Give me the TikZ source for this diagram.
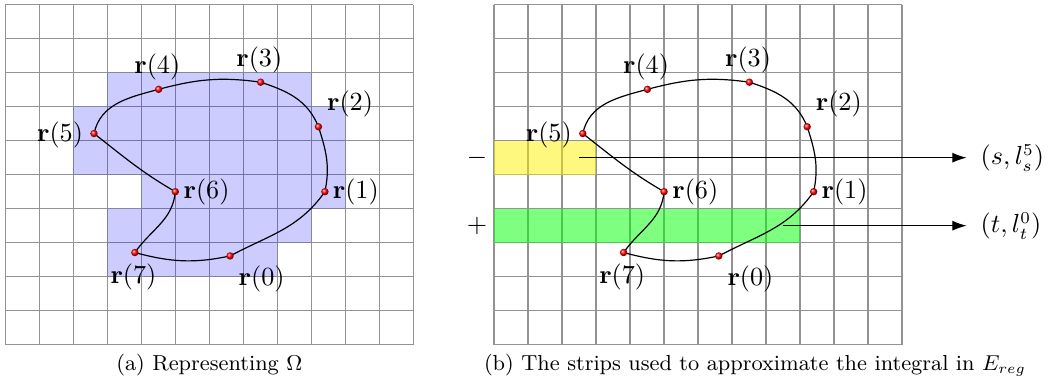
\documentclass[tikz,border=0pt]{standalone}
\usetikzlibrary{arrows.meta}
\begin{document}
\begin{tikzpicture}[x=0.5cm,y=0.5cm,
  gridline/.style={gray!85, line width=0.5pt},
  dot/.style={circle, inner sep=0pt, minimum size=3.1pt, shading=ball, ball color=red},
  curve/.style={black, line width=0.5pt},
  lbl/.style={inner sep=0pt, font=\fontsize{10.5}{12}\selectfont},
  captext/.style={inner sep=0pt, anchor=base, font=\fontsize{9.1}{11}\selectfont},
  arr/.style={-{Latex[length=6pt,width=4.2pt]}, line width=0.5pt, shorten >=5.7pt},
  region/.style={fill=blue, fill opacity=0.2},
  minus strip/.style={fill=yellow, fill opacity=0.5},
  plus strip/.style={fill=green, fill opacity=0.5}]
\useasboundingbox (-0.156,-1.185) rectangle (30.756,10.138);
\newcommand{\cellgrid}{%
  \foreach \gx in {0,...,12} {\draw[gridline] (\gx,0) -- (\gx,10);}
  \foreach \gy in {0,...,10} {\draw[gridline] (0,\gy) -- (12,\gy);}
}
\newcommand{\omegashape}[1]{%
  \coordinate (#1p0) at (6.61,2.61);
  \coordinate (#1p1) at (9.40,4.50);
  \coordinate (#1p2) at (9.21,6.41);
  \coordinate (#1p3) at (7.51,7.72);
  \coordinate (#1p4) at (4.51,7.51);
  \coordinate (#1p5) at (2.61,6.21);
  \coordinate (#1p6) at (5.00,4.50);
  \coordinate (#1p7) at (3.81,2.71);
  \draw[curve] (#1p0) to[out=28,in=235] (#1p1) to[out=78,in=-72] (#1p2)
    to[out=112,in=-18] (#1p3) to[out=172,in=15] (#1p4)
    to[out=195,in=78] (#1p5) to[out=-38,in=150] (#1p6)
    to[out=-95,in=55] (#1p7) to[out=-15,in=192] (#1p0);
  \foreach \i in {0,...,7} {\node[dot] (#1d\i) at (#1p\i) {};}
  \node[lbl] (#1l0) at (7.54,1.92) {$\mathbf{r}(0)$};
  \node[lbl] (#1l1) at (10.31,4.50) {$\mathbf{r}(1)$};
  \node[lbl] (#1l2) at (10.14,7.07) {$\mathbf{r}(2)$};
  \node[lbl] (#1l3) at (7.47,8.37) {$\mathbf{r}(3)$};
  \node[lbl] (#1l4) at (4.47,8.18) {$\mathbf{r}(4)$};
  \node[lbl] (#1l5) at (1.61,6.17) {$\mathbf{r}(5)$};
  \node[lbl] (#1l6) at (5.92,4.50) {$\mathbf{r}(6)$};
  \node[lbl] (#1l7) at (3.77,2.00) {$\mathbf{r}(7)$};
}
% ---------- panel (a)
\begin{scope}
  \cellgrid
  \fill[region] (3,2) -- (8,2) -- (8,3) -- (9,3) -- (9,4) -- (10,4) -- (10,7) -- (9,7)
    -- (9,8) -- (3,8) -- (3,7) -- (2,7) -- (2,5) -- (4,5) -- (4,4) -- (3,4) -- cycle;
  \omegashape{a}
  \node[captext] (capa) at (6,-0.774) {(a) Representing $\Omega$};
\end{scope}
% ---------- panel (b)
\begin{scope}[shift={(14.375,0)}]
  \cellgrid
  \fill[minus strip] (0,5) rectangle (3,6);
  \fill[plus strip] (0,3) rectangle (9,4);
  \omegashape{b}
  \node[lbl] (minus) at (-0.5,5.5) {$-$};
  \node[lbl] (plus) at (-0.5,3.5) {$+$};
  \coordinate (sstart) at (2.5,5.5);
  \coordinate (tstart) at (8.5,3.5);
  \node[lbl, anchor=west] (sl) at (14.3,5.5) {$(s,l_s^5)$};
  \node[lbl, anchor=west] (tl) at (14.3,3.5) {$(t,l_t^0)$};
  \draw[arr] (sstart) -- (sl.west);
  \draw[arr] (tstart) -- (tl.west);
\end{scope}
\node[captext] (capb) at (22.05,-0.774) {(b) The strips used to approximate the integral in $E_{reg}$};
\end{tikzpicture}
\end{document}
